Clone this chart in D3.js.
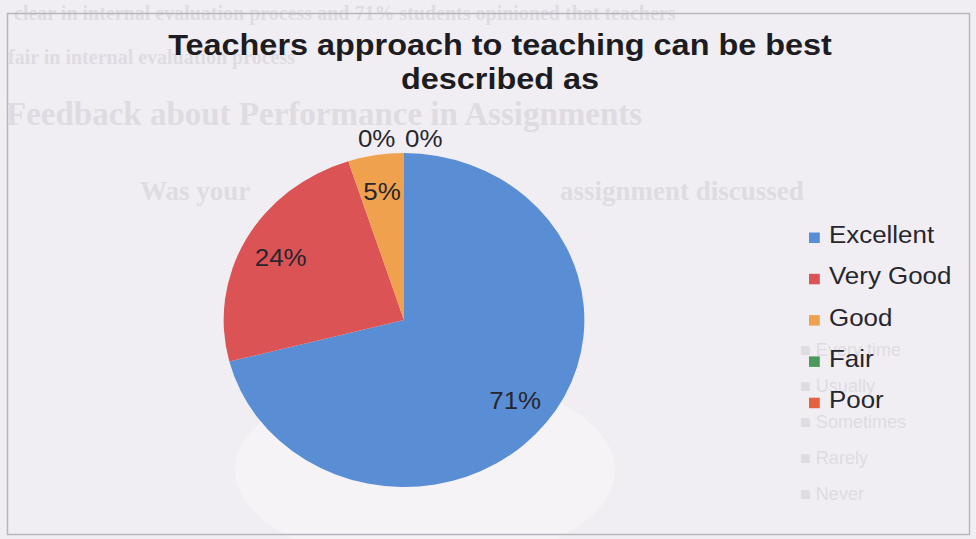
<!DOCTYPE html>
<html>
<head>
<meta charset="utf-8">
<script src="https://cdn.jsdelivr.net/npm/d3@7"></script>
<style>
  body { margin: 0; background: #f1eef3; }
  svg { display: block; }
</style>
</head>
<body>
<div id="chart"></div>
<script>
// chart data
const categories = ["Excellent", "Very Good", "Good", "Fair", "Poor"];
const percents = [71, 24, 5, 0, 0];
const sliceColors = ["#5a8ed4", "#dc5356", "#f0a14d", "#4b9a5c", "#e5613f"];
const titleLines = ["Teachers approach to teaching can be best", "described as"];

// faint text showing through from the other side of the scanned page
const ghostLines = [
    { text: "clear in internal evaluation process and 71% students opinioned that teachers", x: 14, y: 20, size: 20 },
    { text: "fair in internal evaluation process", x: 8, y: 64, size: 20 },
    { text: "Feedback about Performance in Assignments", x: 6, y: 125, size: 33 },
    { text: "Was your", x: 140, y: 200, size: 27 },
    { text: "assignment discussed", x: 560, y: 200, size: 27 }
];
const ghostLegend = ["Every time", "Usually", "Sometimes", "Rarely", "Never"];

const width = 976;
const height = 539;
const sx = 1.08; // the scan is stretched a little horizontally

const svg = d3.select("#chart").append("svg")
    .attr("width", width)
    .attr("height", height);

svg.append("rect")
    .attr("width", width)
    .attr("height", height)
    .attr("fill", "#f1eef3");

// ghost layer
const ghost = svg.append("g").attr("fill", "#dfdbe2");

ghost.append("ellipse")
    .attr("cx", 425).attr("cy", 470)
    .attr("rx", 190).attr("ry", 95)
    .attr("fill", "#f5f3f6");

ghost.selectAll("text.line")
    .data(ghostLines)
    .enter().append("text")
    .attr("class", "line")
    .attr("x", d => d.x)
    .attr("y", d => d.y)
    .style("font-family", "'Liberation Serif', 'DejaVu Serif', serif")
    .style("font-weight", "bold")
    .style("font-size", d => d.size + "px")
    .text(d => d.text);

ghost.selectAll("text.leg")
    .data(ghostLegend)
    .enter().append("text")
    .attr("class", "leg")
    .attr("x", 800)
    .attr("y", (d, i) => 356 + i * 36)
    .style("font-family", "'Liberation Sans', Arial, sans-serif")
    .style("font-size", "18px")
    .text(d => "\u25A0 " + d);

// chart frame
svg.append("rect")
    .attr("x", 7.5).attr("y", 13.5)
    .attr("width", 962).attr("height", 521)
    .attr("fill", "none")
    .attr("stroke", "#b9b5bd")
    .attr("stroke-width", 1.5);

const chart = svg.append("g")
    .attr("transform", "scale(" + sx + ",1)");

// title
chart.append("g")
    .selectAll("text")
    .data(titleLines)
    .enter().append("text")
    .attr("x", 500 / sx)
    .attr("y", (d, i) => 55 + i * 34)
    .attr("text-anchor", "middle")
    .style("font-family", "'Liberation Sans', Arial, sans-serif")
    .style("font-weight", "bold")
    .style("font-size", "30px")
    .attr("fill", "#1c1c22")
    .text(d => d);

// pie
const cx = 404 / sx;
const cy = 320;
const radius = 167;

const pie = d3.pie().sort(null).value(d => d.value);
const slices = pie(categories.map((c, i) => ({ name: c, value: percents[i], color: sliceColors[i] })));

const arc = d3.arc().innerRadius(0).outerRadius(radius);
const labelArc = d3.arc().innerRadius(radius * 0.78).outerRadius(radius * 0.78);

const pieG = chart.append("g")
    .attr("transform", "translate(" + cx + "," + cy + ")");

pieG.selectAll("path")
    .data(slices.filter(d => d.value > 0))
    .enter().append("path")
    .attr("d", arc)
    .attr("fill", d => d.data.color);

// data labels, zero slices go just outside the top edge
let zeroCount = 0;
const labels = slices.map(d => {
    if (d.value > 0) {
        const c = labelArc.centroid(d);
        return { text: d.value + "%", x: c[0], y: c[1] + 9, anchor: "middle" };
    }
    const k = zeroCount++;
    const a = d.startAngle;
    const x = Math.sin(a) * radius;
    const y = -Math.cos(a) * radius - 6;
    return { text: d.value + "%", x: k === 0 ? x - 8 : x + 1, y: y, anchor: k === 0 ? "end" : "start" };
});

pieG.selectAll("text")
    .data(labels)
    .enter().append("text")
    .attr("x", d => d.x)
    .attr("y", d => d.y)
    .attr("text-anchor", d => d.anchor)
    .style("font-family", "'Liberation Sans', Arial, sans-serif")
    .style("font-size", "24px")
    .attr("fill", "#26262e")
    .text(d => d.text);

// legend
const legend = chart.append("g")
    .selectAll("g")
    .data(categories)
    .enter().append("g")
    .attr("transform", (d, i) => "translate(" + (809 / sx) + "," + (243 + i * 41.3) + ")");

legend.append("rect")
    .attr("x", 0)
    .attr("y", -10.5)
    .attr("width", 10)
    .attr("height", 10.5)
    .attr("fill", (d, i) => sliceColors[i]);

legend.append("text")
    .attr("x", 20 / sx)
    .attr("y", 0)
    .style("font-family", "'Liberation Sans', Arial, sans-serif")
    .style("font-size", "24px")
    .attr("fill", "#26262e")
    .text(d => d);
</script>
</body>
</html>
